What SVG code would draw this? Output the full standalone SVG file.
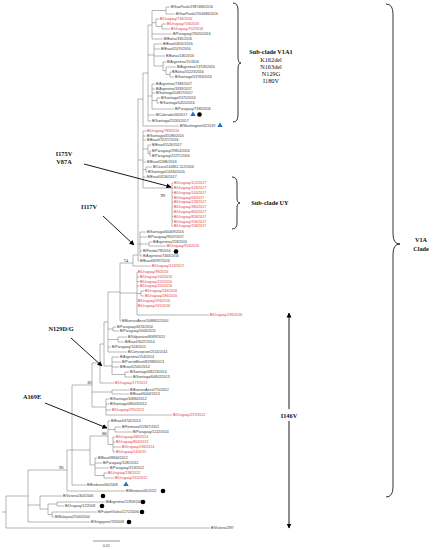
<svg xmlns="http://www.w3.org/2000/svg" width="434" height="550" viewBox="0 0 434 550">
<defs>
<marker id="ah" viewBox="0 0 10 10" refX="9" refY="5" markerWidth="5" markerHeight="5" orient="auto-start-reverse" markerUnits="userSpaceOnUse"><path d="M0 0L10 5L0 10z" fill="#000"/></marker>
<marker id="ah2" viewBox="0 0 10 10" refX="9" refY="5" markerWidth="5" markerHeight="6" orient="auto-start-reverse" markerUnits="userSpaceOnUse"><path d="M0 0L10 5L0 10z" fill="#000"/></marker>
<path id="tri" d="M0 -2.6L2.7 2L-2.7 2z"/>
</defs>
<style>
.t{font-family:"Liberation Sans",Arial,sans-serif;font-size:3.5px;fill:#3a3a3a}
.r{fill:#e2373c}
.br{fill:none;stroke:#7a7a7a;stroke-width:0.55}
.bs{font-family:"Liberation Serif","Times New Roman",serif;font-size:4.6px;fill:#222}
.an{font-family:"Liberation Serif","Times New Roman",serif;font-size:6.3px;fill:#111}
.ab{font-weight:bold}
.ar{fill:none;stroke:#000;stroke-width:0.9}
.dot{fill:#000}
.bt{fill:#1f6fc4}
.brace{fill:none;stroke:#000;stroke-width:0.8}
</style>
<rect width="434" height="550" fill="#fff"/>
<g id="connectors" class="br">
<path d="M148 25V121M148 25H152M152 10.5V39M152 10.5H166M166 7V14M166 7H170.2M166 14H175.2M152 22.7H156M156 19V26.5M156 19H159.2M156 26.5H162M162 24V29M162 24H166.2M162 29H170.2M152 34H172.2M152 39H163.2"/>
<path d="M148 55H154M154 44V66M154 44H162.2M154 49H160.2M154 56H165.2M154 66H163M163 62V70.7M163 62H166.2M163 70.7H166M166 67V74.5M166 67H176.2M166 74.5H170M170 72V77M170 72H171.2M170 77H174.2"/>
<path d="M148 96H152M152 84V109M152 84H155.2M152 89H155.2M152 93H155.2M152 100.5H157M157 98V103M157 98H160.2M157 103H159.2M152 109H174.2M148 115H155.2M148 121H151.2"/>
<path d="M143 73H148M143 73V126M143 126H179.2M138 99H143"/>
<path d="M138 160H143M143 131V188M143 131H146.2M143 136H146.2M143 140H146.2M143 149H148M148 145V153.5M148 145H151.2M148 153.5H150M150 151V156M150 151H151.2M150 156H151.2M143 162H146.2M143 169.5H146M146 167V172M146 167H152.2M146 172H147.2M143 177H146.2"/>
<path d="M143 188H172M172 183V226.2M172 183H173.2M172 187.8H173.2M172 192.6H173.2M172 197.4H173.2M172 202.2H173.2M172 207H173.2M172 211.8H173.2M172 216.6H173.2M172 221.4H173.2M172 226.2H173.2"/>
<path d="M138 244H140M140 232V256M140 232H146.2M140 237H147.2M140 244H149M149 242V246M149 242H152.2M149 246H166.2M140 251H142.2M140 256H142.2M138 261H139.2M138 99V261"/>
<path d="M133 255H138M133 255V266M133 266H151.2M120 263H133M120 263V321"/>
<path d="M120 293H137M137 272V315M137 272H137.4M137 277H139.2M137 281.5H139.2M137 286H139.2M137 293.5H141M141 291V296M141 291H144.2M141 296H144.2M137 301H137.4M137 305.5H137.4M137 315H209.2M120 321H121.2M108 292H120"/>
<path d="M108 292V352M108 329H113M113 327V331M113 327H116.2M113 331H119.2M108 339.5H118M118 337V342M118 337H127.2M118 342H124.2M108 347H111.2M108 352H127.2M104 322H108M104 322V366"/>
<path d="M104 366H112M112 357V374.5M112 357H119.2M112 362H121.2M112 367H119.2M112 374.5H125M125 372V377M125 372H129.2M125 377H132.2M100 344H104M100 344V383M100 383H114.2M92 363H100M92 363V407"/>
<path d="M92 392H112M112 390V394M112 390H129.2M112 394H129.2M92 407H106M106 399V415M106 399H109.2M106 404H109.2M106 410H111.2M106 415H172.2M72 385H92M72 385V485"/>
<path d="M72 450H90M90 436V465M90 436H108M108 421V444.5M108 421H110.2M108 429.5H115M115 427V432M115 427H121.2M115 432H132.2M108 444.5H113M113 437V452M113 437H115.2M113 442H115.2M113 447H121.2M113 452H115.2"/>
<path d="M90 465H95M95 458V475.5M95 458H97.2M95 463H102.2M95 468H109.2M95 475.5H104M104 473V478M104 473H107.2M104 478H114.2M72 485H86.2"/>
<path d="M67 450H72M67 450V491M67 491H125.2M28 470H67M28 470V522M28 522H90.2M28 505H40M40 496V509M40 496H62.2M40 509H48M48 504V514.5M48 504H57M57 502V506M57 502H105.2M57 506H64.2M48 514.5H52M52 512V517M52 512H97.2M52 517H54.2M6 496V528M6 496H28M6 528H210.2M2 512H6"/>
</g>
<g id="leaves">
<g id="n1"><text class="t" x="171" y="8.2">B/SaoPaulo/1987486/2016</text></g>
<g id="n2"><text class="t" x="176" y="15.2">B/SaoPaulo/2314686/2016</text></g>
<g id="n3"><text class="t r" x="160" y="20.2">B/Uruguay/746/2016</text></g>
<g id="n4"><text class="t r" x="167" y="25.2">B/Uruguay/706/2016</text></g>
<g id="n5"><text class="t r" x="171" y="30.2">B/Uruguay/752/2016</text></g>
<g id="n6"><text class="t" x="173" y="35.2">B/Paraguay/19020/2016</text></g>
<g id="n7"><text class="t" x="164" y="40.2">B/Bahia/335/2016</text></g>
<g id="n8"><text class="t" x="163" y="45.2">B/Brazil/4655/2016</text></g>
<g id="n9"><text class="t" x="161" y="50.2">B/Brazil/2470/2016</text></g>
<g id="n10"><text class="t" x="166" y="57.2">B/Bahia/146/2016</text></g>
<g id="n11"><text class="t" x="167" y="63.2">B/Argentina/15/2016</text></g>
<g id="n12"><text class="t" x="177" y="68.2">B/Argentina/13728/2016</text></g>
<g id="n13"><text class="t" x="172" y="73.2">B/Bahia/55223/2016</text></g>
<g id="n14"><text class="t" x="175" y="78.2">B/Santiago/53783/2016</text></g>
<g id="n15"><text class="t" x="156" y="85.2">B/Argentina/7383/2017</text></g>
<g id="n16"><text class="t" x="156" y="90.2">B/Argentina/3333/2017</text></g>
<g id="n17"><text class="t" x="156" y="94.2">B/Santiago/54827/2017</text></g>
<g id="n18"><text class="t" x="161" y="99.2">B/Santiago/5375/2016</text></g>
<g id="n19"><text class="t" x="160" y="104.2">B/Santiago/5455/2016</text></g>
<g id="n20"><text class="t" x="175" y="110.2">B/Paraguay/7333/2016</text></g>
<g id="n21"><text class="t" x="156" y="116.2">B/Colorado/06/2017</text><use href="#tri" class="bt" x="193" y="114"/><circle class="dot" cx="199.5" cy="114.5" r="2.3"/></g>
<g id="n22"><text class="t" x="152" y="122.2">B/Santiago/25265/2017</text></g>
<g id="n23"><text class="t" x="180" y="127.2">B/Washington/02/2019</text><use href="#tri" class="bt" x="220" y="125"/></g>
<g id="n24"><text class="t r" x="147" y="132.2">B/Uruguay/789/2016</text></g>
<g id="n25"><text class="t" x="147" y="137.2">B/Santiago/45586/2016</text></g>
<g id="n26"><text class="t" x="147" y="141.2">B/Brazil/70727/2016</text></g>
<g id="n27"><text class="t" x="152" y="146.2">B/Brazil/5526/2017</text></g>
<g id="n28"><text class="t" x="152" y="152.2">B/Paraguay/29814/2016</text></g>
<g id="n29"><text class="t" x="152" y="157.2">B/Paraguay/22271/2016</text></g>
<g id="n30"><text class="t" x="147" y="163.2">B/Brazil/2486/2016</text></g>
<g id="n31"><text class="t" x="153" y="168.2">B/Ceara/144852-112/2016</text></g>
<g id="n32"><text class="t" x="148" y="173.2">B/Santiago/14430/2016</text></g>
<g id="n33"><text class="t" x="147" y="178.2">B/Brazil/4556/2017</text></g>
<g id="n34"><text class="t r" x="174" y="184.2">B/Uruguay/122/2017</text></g>
<g id="n35"><text class="t r" x="174" y="189">B/Uruguay/126/2017</text></g>
<g id="n36"><text class="t r" x="174" y="193.8">B/Uruguay/140/2017</text></g>
<g id="n37"><text class="t r" x="174" y="198.6">B/Uruguay/58/2017</text></g>
<g id="n38"><text class="t r" x="174" y="203.4">B/Uruguay/228/2017</text></g>
<g id="n39"><text class="t r" x="174" y="208.2">B/Uruguay/380/2017</text></g>
<g id="n40"><text class="t r" x="174" y="213">B/Uruguay/800/2017</text></g>
<g id="n41"><text class="t r" x="174" y="217.8">B/Uruguay/858/2017</text></g>
<g id="n42"><text class="t r" x="174" y="222.6">B/Uruguay/706/2017</text></g>
<g id="n43"><text class="t r" x="174" y="227.4">B/Uruguay/708/2017</text></g>
<g id="n44"><text class="t" x="147" y="233.2">B/Santiago/60469/2016</text></g>
<g id="n45"><text class="t" x="148" y="238.2">B/Paraguay/9007/2017</text></g>
<g id="n46"><text class="t" x="153" y="243.2">B/Argentina/258/2016</text></g>
<g id="n47"><text class="t r" x="167" y="247.2">B/Uruguay/924/2016</text></g>
<g id="n48"><text class="t" x="143" y="252.2">B/Florida/78/2016</text><circle class="dot" cx="176" cy="251.5" r="2.3"/></g>
<g id="n49"><text class="t" x="143" y="257.2">B/Argentina/7463/2016</text></g>
<g id="n50"><text class="t" x="140" y="262.2">B/Brazil/8297/2016</text></g>
<g id="n51"><text class="t r" x="152" y="267.2">B/Uruguay/124/2017</text></g>
<g id="n52"><text class="t r" x="138" y="273.2">B/Uruguay/98/2016</text></g>
<g id="n53"><text class="t r" x="140" y="278.2">B/Uruguay/100/2016</text></g>
<g id="n54"><text class="t r" x="140" y="282.7">B/Uruguay/112/2016</text></g>
<g id="n55"><text class="t r" x="140" y="287.2">B/Uruguay/205/2016</text></g>
<g id="n56"><text class="t r" x="145" y="292.2">B/Uruguay/246/2016</text></g>
<g id="n57"><text class="t r" x="145" y="297.2">B/Uruguay/286/2016</text></g>
<g id="n58"><text class="t r" x="138" y="302.2">B/Uruguay/594/2016</text></g>
<g id="n59"><text class="t r" x="138" y="306.7">B/Uruguay/165/2016</text></g>
<g id="n60"><text class="t r" x="210" y="316.2">B/Uruguay/296/2016</text></g>
<g id="n61"><text class="t" x="122" y="322.2">B/BuenosAires/1088652/2014</text></g>
<g id="n62"><text class="t" x="117" y="328.2">B/Paraguay/4674/2014</text></g>
<g id="n63"><text class="t" x="120" y="332.2">B/Paraguay/5003/2015</text></g>
<g id="n64"><text class="t" x="128" y="338.2">B/Valparaiso/8089/2015</text></g>
<g id="n65"><text class="t" x="125" y="343.2">B/Brazil/3027/2014</text></g>
<g id="n66"><text class="t" x="112" y="348.2">B/Paraguay/103/2015</text></g>
<g id="n67"><text class="t" x="128" y="353.2">B/Concepcion/2514/2014</text></g>
<g id="n68"><text class="t" x="120" y="358.2">B/Argentina/154/2014</text></g>
<g id="n69"><text class="t" x="122" y="363.2">B/PuertoMontt/81988/2013</text></g>
<g id="n70"><text class="t" x="120" y="368.2">B/Brazil/2505/2014</text></g>
<g id="n71"><text class="t" x="130" y="373.2">B/Santiago/68223/2014</text></g>
<g id="n72"><text class="t" x="133" y="378.2">B/Santiago/60802/2013</text></g>
<g id="n73"><text class="t r" x="115" y="384.2">B/Uruguay/177/2013</text></g>
<g id="n74"><text class="t" x="130" y="391.2">B/BuenosAires/770/2012</text></g>
<g id="n75"><text class="t" x="130" y="395.2">B/Brazil/6004/2013</text></g>
<g id="n76"><text class="t" x="110" y="400.2">B/Santiago/34880/2012</text></g>
<g id="n77"><text class="t" x="110" y="405.2">B/Santiago/48003/2012</text></g>
<g id="n78"><text class="t r" x="112" y="411.2">B/Uruguay/295/2012</text></g>
<g id="n79"><text class="t r" x="173" y="416.2">B/Uruguay/237/2012</text></g>
<g id="n80"><text class="t" x="111" y="422.2">B/Brazil/3742/2013</text></g>
<g id="n81"><text class="t" x="122" y="428.2">B/Formosa/V2367/2012</text></g>
<g id="n82"><text class="t" x="133" y="433.2">B/Paraguay/1222/2014</text></g>
<g id="n83"><text class="t r" x="116" y="438.2">B/Uruguay/480/2014</text></g>
<g id="n84"><text class="t r" x="116" y="443.2">B/Uruguay/864/2013</text></g>
<g id="n85"><text class="t r" x="122" y="448.2">B/Uruguay/536/2014</text></g>
<g id="n86"><text class="t r" x="116" y="453.2">B/Uruguay/54/2015</text></g>
<g id="n87"><text class="t" x="98" y="459.2">B/Brazil/8844/2012</text></g>
<g id="n88"><text class="t" x="103" y="464.2">B/Paraguay/1185/2012</text></g>
<g id="n89"><text class="t" x="110" y="469.2">B/Paraguay/253/2012</text></g>
<g id="n90"><text class="t r" x="108" y="474.2">B/Uruguay/238/2012</text></g>
<g id="n91"><text class="t r" x="115" y="479.2">B/Uruguay/315/2012</text></g>
<g id="n92"><text class="t" x="87" y="486.2">B/Brisbane/60/2008</text><use href="#tri" class="bt" x="126" y="484"/></g>
<g id="n93"><text class="t" x="126" y="492.2">B/Montana/05/2012</text><circle class="dot" cx="163" cy="491" r="2.3"/></g>
<g id="n94"><text class="t" x="63" y="497.2">B/Victoria/304/2006</text><circle class="dot" cx="103" cy="496" r="2.3"/></g>
<g id="n95"><text class="t" x="106" y="503.2">B/Argentina/11958/2006</text><circle class="dot" cx="143" cy="502" r="2.3"/></g>
<g id="n96"><text class="t" x="65" y="507.2">B/Uruguay/12/2008</text><circle class="dot" cx="102" cy="506" r="2.3"/></g>
<g id="n97"><text class="t" x="98" y="513.2">B/Fujian/Gulou/1272/2006</text><circle class="dot" cx="142" cy="512" r="2.3"/></g>
<g id="n98"><text class="t" x="55" y="518.2">B/Malaysia/2506/2004</text></g>
<g id="n99"><text class="t" x="91" y="523.2">B/Singapore/19/2008</text><circle class="dot" cx="129" cy="522" r="2.3"/></g>
<g id="n100"><text class="t" x="211" y="529.2">B/Victoria/2/87</text></g>
</g>
<g id="bootstrap">
<text class="bs" x="160.5" y="197">99</text>
<text class="bs" x="123.5" y="261.5">74</text>
<text class="bs" x="87.5" y="383.5">81</text>
<text class="bs" x="102" y="435">88</text>
<text class="bs" x="59" y="468.5">96</text>
</g>
<g id="mutations">
<text class="an ab" x="64" y="156" text-anchor="middle">I175V</text>
<text class="an ab" x="64" y="164" text-anchor="middle">V87A</text>
<line class="ar" x1="84" y1="164" x2="171" y2="187" marker-end="url(#ah)"/>
<text class="an ab" x="89" y="209" text-anchor="middle">I117V</text>
<line class="ar" x1="103" y1="216" x2="134" y2="245" marker-end="url(#ah)"/>
<text class="an ab" x="61" y="331" text-anchor="middle">N129D/G</text>
<line class="ar" x1="71" y1="338" x2="102" y2="366" marker-end="url(#ah)"/>
<text class="an ab" x="32" y="399" text-anchor="middle">A169E</text>
<line class="ar" x1="45" y1="403" x2="107" y2="428" marker-end="url(#ah)"/>
</g>
<g id="subclade-v1a1">
<path class="brace" d="M233 3Q238 3 238 10V57Q238 63 241 63Q238 63 238 69V115Q238 122 233 122"/>
<text class="an ab" x="271" y="54" text-anchor="middle">Sub-clade V1A1</text>
<text class="an" x="271" y="61.5" text-anchor="middle">K162del</text>
<text class="an" x="271" y="68.8" text-anchor="middle">N163del</text>
<text class="an" x="271" y="76" text-anchor="middle">N129G</text>
<text class="an" x="271" y="83.3" text-anchor="middle">I180V</text>
</g>
<g id="subclade-uy">
<path class="brace" d="M232 177Q237 177 237 183V198Q237 203 240 203Q237 203 237 208V223Q237 229 232 229"/>
<text class="an ab" x="270" y="205" text-anchor="middle">Sub-clade UY</text>
</g>
<g id="i146v">
<line class="ar" x1="289" y1="409" x2="289" y2="313" marker-end="url(#ah2)"/>
<line class="ar" x1="289" y1="421" x2="289" y2="528" marker-end="url(#ah2)"/>
<text class="an ab" x="289" y="417.5" text-anchor="middle">I146V</text>
</g>
<g id="v1a-clade">
<path class="brace" d="M386 4Q393 4 393 14V234Q393 244 400 244Q393 244 393 254V487Q393 497 386 497"/>
<text class="an ab" x="421" y="242" text-anchor="middle">V1A</text>
<text class="an ab" x="421" y="250.5" text-anchor="middle">Clade</text>
</g>
<g id="scale">
<line x1="93" y1="541" x2="120" y2="541" stroke="#555" stroke-width="0.6"/>
<text class="t" x="106.5" y="547" text-anchor="middle" font-size="3px">0.01</text>
</g>
</svg>
